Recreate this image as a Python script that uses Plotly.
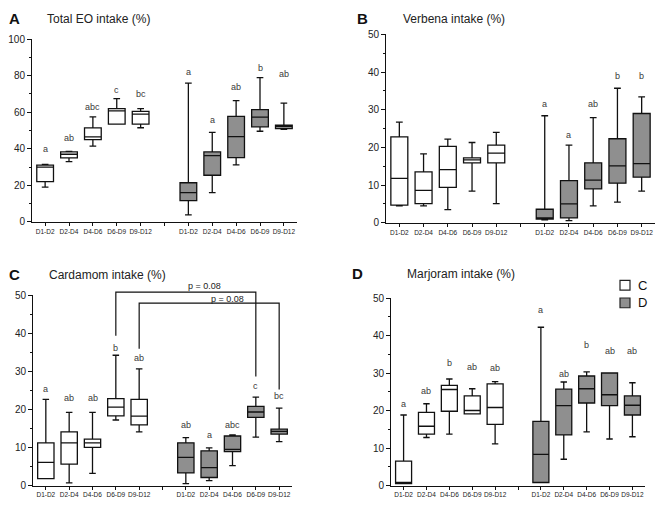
import plotly.graph_objects as go

W, H = 666, 513

# ---------------- data ----------------
periods = ["D1-D2", "D2-D4", "D4-D6", "D6-D9", "D9-D12"]
pos_C = [1, 2, 3, 4, 5]
pos_D = [7, 8, 9, 10, 11]

# Panel A: Total EO intake (%)
A_C_low = [19, 33, 41.5, 53.5, 51.5]
A_C_q1 = [22, 35, 45, 53.5, 53.5]
A_C_med = [30, 37, 46.5, 60.7, 59]
A_C_q3 = [31, 38.3, 51.4, 62, 60.5]
A_C_high = [31.5, 38.5, 57.5, 67.5, 62]
A_C_sig = ["a", "ab", "abc", "c", "bc"]
A_C_sig_y = [40, 46, 63, 72, 70]

A_D_low = [3.8, 16, 31.2, 49.6, 50.6]
A_D_q1 = [11.6, 25.5, 35.2, 52, 51]
A_D_med = [16, 36.2, 46.6, 57.3, 52.3]
A_D_q3 = [21.4, 38.3, 57.7, 61.4, 53]
A_D_high = [76, 49, 66.4, 79, 65]
A_D_sig = ["a", "a", "ab", "b", "ab"]
A_D_sig_y = [82, 56, 74, 84, 81]

# Panel B: Verbena intake (%)
B_C_low = [4.5, 4.5, 3.5, 8.4, 5.1]
B_C_q1 = [4.7, 5.1, 9.4, 15.9, 15.9]
B_C_med = [11.8, 8.6, 14.1, 16.7, 18.5]
B_C_q3 = [22.8, 13.5, 20.3, 17.2, 20.6]
B_C_high = [26.7, 18.3, 22.2, 21.3, 24]
B_C_sig = ["", "", "", "", ""]
B_C_sig_y = [0, 0, 0, 0, 0]

B_D_low = [0.8, 0.6, 4.5, 5.5, 8.4]
B_D_q1 = [1.0, 1.3, 9.0, 10.5, 12.1]
B_D_med = [1.3, 5.0, 11.3, 15.1, 15.7]
B_D_q3 = [3.6, 11.2, 15.9, 22.3, 29.0]
B_D_high = [28.4, 20.6, 27.9, 35.7, 33.4]
B_D_sig = ["a", "a", "ab", "b", "b"]
B_D_sig_y = [31.5, 23.4, 31.5, 39, 39]

# Panel C: Cardamom intake (%)
C_C_low = [1.8, 0.7, 3.2, 17.2, 14.1]
C_C_q1 = [1.8, 5.6, 10.0, 18.3, 15.9]
C_C_med = [6.1, 11.2, 11.2, 20.6, 18.2]
C_C_q3 = [11.2, 14.1, 12.2, 22.8, 22.6]
C_C_high = [22.6, 19.2, 19.2, 34.2, 30.6]
C_C_sig = ["a", "ab", "ab", "b", "ab"]
C_C_sig_y = [25.4, 23.1, 23.1, 36.2, 33.6]

C_D_low = [0.5, 1.3, 5.2, 12.7, 11.5]
C_D_q1 = [3.3, 2.1, 8.9, 17.9, 13.5]
C_D_med = [7.4, 4.7, 9.5, 19.3, 14.2]
C_D_q3 = [11.2, 9.1, 13.0, 20.8, 14.8]
C_D_high = [12.6, 9.9, 13.3, 23.2, 20.3]
C_D_sig = ["ab", "a", "abc", "c", "bc"]
C_D_sig_y = [16, 13.3, 16, 26.2, 23.5]

# Panel C comparison brackets: (x_from, x_to, y_left, y_top, y_right, label_x, label_y)
C_brackets = [
    (4, 10, 39.3, 50.8, 28.6, 7.0, 52.4),
    (5, 11, 35.9, 47.9, 25.2, 8.0, 49.1),
]
C_bracket_text = ["p = 0.08", "p = 0.08"]

# Panel D: Marjoram intake (%)
D_C_low = [0.5, 12.8, 13.7, 19.1, 11.1]
D_C_q1 = [0.5, 13.7, 19.8, 19.1, 16.3]
D_C_med = [0.8, 15.8, 25.6, 20.0, 20.8]
D_C_q3 = [6.5, 19.5, 26.7, 23.9, 27.1]
D_C_high = [18.8, 21.8, 28.4, 25.8, 27.7]
D_C_sig = ["a", "ab", "b", "ab", "ab"]
D_C_sig_y = [21.7, 25.2, 32.8, 31.5, 31.3]

D_D_low = [0.8, 7.0, 14.3, 12.4, 13.0]
D_D_q1 = [0.8, 13.5, 22.0, 21.3, 18.8]
D_D_med = [8.3, 21.3, 25.8, 24.2, 21.4]
D_D_q3 = [17.1, 25.7, 29.2, 30.0, 23.9]
D_D_high = [42.2, 27.6, 30.3, 30.0, 27.4]
D_D_sig = ["a", "ab", "b", "ab", "ab"]
D_D_sig_y = [46.8, 29.8, 37.4, 35.8, 35.8]

group_names = ["C", "D"]
panel_titles = ["Total EO intake (%)", "Verbena intake (%)", "Cardamom intake (%)", "Marjoram intake (%)"]
panel_letters = ["A", "B", "C", "D"]

# ---------------- layout geometry (pixels) ----------------
FONT = "Liberation Sans, Arial, sans-serif"
WHITE = "#ffffff"
GREY = "#8f8f8f"
FILLS = [WHITE, GREY]

panels = [
    dict(xl=32, xr=297, yt=34, yb=221, ymax=100, dtick=20, lx=7, ly=13, tx=45),
    dict(xl=386, xr=655, yt=29, yb=222, ymax=50, dtick=10, lx=355, ly=13, tx=401),
    dict(xl=33, xr=292, yt=296, yb=491, ymax=50, dtick=10, lx=7, ly=275, tx=47),
    dict(xl=391, xr=645, yt=299, yb=491, ymax=50, dtick=10, lx=350, ly=274, tx=405),
]
XR = [0.45, 11.55]

data_sets = [
    (A_C_low, A_C_q1, A_C_med, A_C_q3, A_C_high, A_C_sig, A_C_sig_y,
     A_D_low, A_D_q1, A_D_med, A_D_q3, A_D_high, A_D_sig, A_D_sig_y),
    (B_C_low, B_C_q1, B_C_med, B_C_q3, B_C_high, B_C_sig, B_C_sig_y,
     B_D_low, B_D_q1, B_D_med, B_D_q3, B_D_high, B_D_sig, B_D_sig_y),
    (C_C_low, C_C_q1, C_C_med, C_C_q3, C_C_high, C_C_sig, C_C_sig_y,
     C_D_low, C_D_q1, C_D_med, C_D_q3, C_D_high, C_D_sig, C_D_sig_y),
    (D_C_low, D_C_q1, D_C_med, D_C_q3, D_C_high, D_C_sig, D_C_sig_y,
     D_D_low, D_D_q1, D_D_med, D_D_q3, D_D_high, D_D_sig, D_D_sig_y),
]

fig = go.Figure()
annotations = []
shapes = []

tickvals = list(range(1, 12))
ticktext = periods + [""] + periods

for i, (p, ds) in enumerate(zip(panels, data_sets)):
    n = "" if i == 0 else str(i + 1)
    xa, ya = "x" + n, "y" + n
    (c_low, c_q1, c_med, c_q3, c_high, c_sig, c_sig_y,
     d_low, d_q1, d_med, d_q3, d_high, d_sig, d_sig_y) = ds
    for gname, pos, low, q1, med, q3, high, fill in [
        ("C", pos_C, c_low, c_q1, c_med, c_q3, c_high, WHITE),
        ("D", pos_D, d_low, d_q1, d_med, d_q3, d_high, GREY),
    ]:
        fig.add_trace(go.Box(
            x=pos, q1=q1, median=med, q3=q3, lowerfence=low, upperfence=high,
            name=gname, fillcolor=fill, line=dict(color="#111111", width=1.3),
            width=0.7, whiskerwidth=0.4, boxpoints=False,
            xaxis=xa, yaxis=ya, showlegend=False, hoverinfo="skip",
        ))
    for pos, sig, sy in [(pos_C, c_sig, c_sig_y), (pos_D, d_sig, d_sig_y)]:
        for xv, s, yv in zip(pos, sig, sy):
            if s:
                annotations.append(dict(x=xv, y=yv, xref=xa, yref=ya, text=s, showarrow=False,
                                        font=dict(family=FONT, size=9, color="#3a3a3a")))
    xdom = [p["xl"] / W, p["xr"] / W]
    ydom = [1 - p["yb"] / H, 1 - p["yt"] / H]
    axis_common = dict(showline=True, linecolor="#111111", linewidth=1, showgrid=False,
                       zeroline=False, ticks="outside", tickcolor="#111111")
    fig.update_layout(**{
        ("xaxis" + n): dict(domain=xdom, range=XR, tickmode="array", tickvals=tickvals,
                            ticktext=ticktext, ticklen=3, tickwidth=1, tickangle=0,
                            tickfont=dict(family=FONT, size=6.5, color="#222222"),
                            anchor=ya, **axis_common),
        ("yaxis" + n): dict(domain=ydom, range=[0, p["ymax"]], dtick=p["dtick"], ticklen=4,
                            tickwidth=1, tickfont=dict(family=FONT, size=10, color="#222222"),
                            minor=dict(ticks="outside", dtick=p["dtick"] / 2, ticklen=2,
                                       tickcolor="#111111"),
                            anchor=xa, **axis_common),
    })
    annotations.append(dict(x=p["lx"] / W, y=1 - p["ly"] / H, xref="paper", yref="paper",
                            text="<b>" + panel_letters[i] + "</b>", showarrow=False,
                            xanchor="left", yanchor="middle",
                            font=dict(family=FONT, size=15, color="#111111")))
    annotations.append(dict(x=p["tx"] / W, y=1 - p["ly"] / H, xref="paper", yref="paper",
                            text=panel_titles[i], showarrow=False,
                            xanchor="left", yanchor="middle",
                            font=dict(family=FONT, size=12, color="#222222")))

# brackets for panel C, converted through panel C's axis scales to paper coordinates
pc = panels[2]
def cx(v):
    return (pc["xl"] + (v - XR[0]) / (XR[1] - XR[0]) * (pc["xr"] - pc["xl"])) / W
def cy(v):
    return 1 - (pc["yb"] - v / pc["ymax"] * (pc["yb"] - pc["yt"])) / H

for (x0, x1, yl, yt, yr, lxv, lyv), txt in zip(C_brackets, C_bracket_text):
    path = f"M{cx(x0)},{cy(yl)} L{cx(x0)},{cy(yt)} L{cx(x1)},{cy(yt)} L{cx(x1)},{cy(yr)}"
    shapes.append(dict(type="path", path=path, xref="paper", yref="paper",
                       line=dict(color="#111111", width=1.2)))
    annotations.append(dict(x=cx(lxv), y=cy(lyv), xref="paper", yref="paper", text=txt,
                            showarrow=False, font=dict(family=FONT, size=9, color="#222222")))

# manual legend (top right of panel D)
for k, (gname, fill) in enumerate(zip(group_names, FILLS)):
    top = 281 + k * 18
    shapes.append(dict(type="rect", xref="paper", yref="paper",
                       x0=620 / W, x1=630 / W, y0=1 - (top + 10) / H, y1=1 - top / H,
                       fillcolor=fill, line=dict(color="#222222", width=1.2)))
    annotations.append(dict(x=636 / W, y=1 - (top + 5) / H, xref="paper", yref="paper",
                            text=gname, showarrow=False, xanchor="left", yanchor="middle",
                            font=dict(family=FONT, size=13, color="#111111")))

fig.update_layout(
    width=W, height=H, margin=dict(l=0, r=0, t=0, b=0),
    paper_bgcolor="white", plot_bgcolor="white",
    annotations=annotations, shapes=shapes,
    showlegend=False,
    boxmode="overlay",
)

fig.write_html("out.html", config={"displayModeBar": False},
               post_script="document.body.style.margin='0px';")
